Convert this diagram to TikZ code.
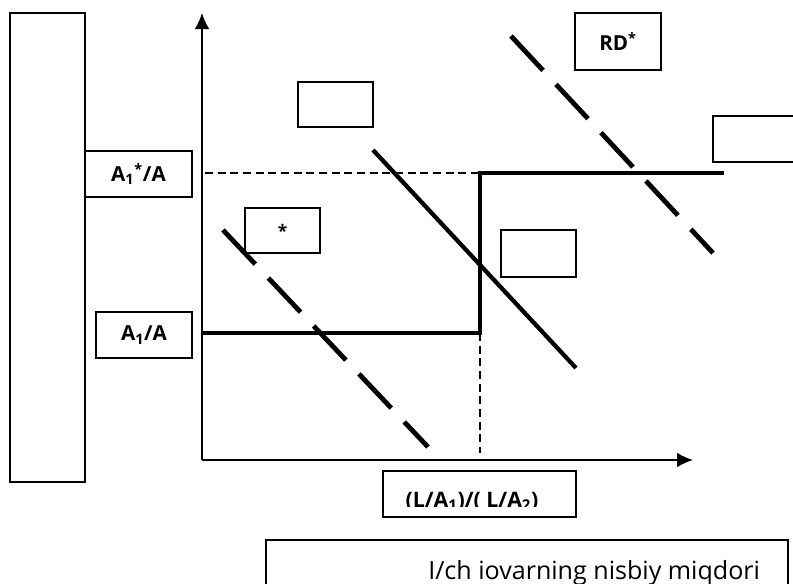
\documentclass[tikz,border=0pt]{standalone}
\usepackage{fontspec}
\setmainfont{Open Sans}
\usetikzlibrary{arrows.meta}

\begin{document}
\begin{tikzpicture}[x=0.75pt, y=-0.75pt, >={Latex[length=12pt,width=11pt]},
  box/.style={draw, rectangle, line width=1pt, inner sep=0pt},
  lbl/.style={box, font=\fontsize{15.5}{18}\selectfont\bfseries},
  curve/.style={line width=3.2pt},
  dashcurve/.style={line width=3.6pt, dash pattern=on 35.25pt off 14.25pt},
  guide/.style={line width=0.8pt, dash pattern=on 6pt off 3.5pt}]
  \useasboundingbox (0,0) rectangle (793,583);
  \clip (0,0) rectangle (793,583);

  % Define blocks
  \node [box, minimum width=56.25pt, minimum height=351.75pt] (tall) at (47.5,247.5) {};
  \node [lbl, minimum width=80.25pt, minimum height=34.5pt] (aone star) at (138.5,174) {A\textsubscript{1}\textsuperscript{*}/A};
  \node [lbl, minimum width=72pt, minimum height=34.5pt] (aone) at (144,335) {A\textsubscript{1}/A};
  \node [box, minimum width=56.25pt, minimum height=33.75pt] (rd) at (335.5,104.5) {};
  \node [lbl, font=\fontsize{13}{15}\selectfont\bfseries, minimum width=56.25pt, minimum height=33.75pt] (rd star) at (282.5,230.5) {*};
  \node [lbl, minimum width=64.5pt, minimum height=42.75pt] (RD star) at (618,41.5) {RD\textsuperscript{*}};
  \node [box, minimum width=67.5pt, minimum height=34.5pt] (rs star) at (758,139) {};
  \node [box, minimum width=56.25pt, minimum height=35.25pt] (rs) at (538.5,253.5) {};
  \node [box, minimum width=144.75pt, minimum height=34.5pt] (ratio) at (479.5,494) {};
  \begin{scope}
    \clip (383,471) rectangle (576,506);
    \node [font=\fontsize{16}{18}\selectfont\bfseries, anchor=base] (ratio text) at (472,507) {(L/A\textsubscript{1})/( L/A\textsubscript{2})};
  \end{scope}
  \node [box, minimum width=391.5pt, minimum height=60pt] (caption) at (527,580) {};
  \node [font=\fontsize{18.8}{21}\selectfont, anchor=base west, inner sep=0pt] (caption text) at (428,579) {I/ch iovarning nisbiy miqdori};

  % Axes
  \coordinate (O) at (202,460);
  \coordinate (ytop) at (202,13);
  \coordinate (xend) at (693,460);
  \draw [->, line width=1.1pt] (O) -- (ytop);
  \draw [->, line width=1.1pt] (O) -- (xend);

  % Step line and guides
  \coordinate (s0) at (202,333);
  \coordinate (s1) at (480,333);
  \coordinate (s2) at (480,173);
  \coordinate (s3) at (724,173);
  \coordinate (g0) at (205,173);
  \coordinate (g1) at (480,453);
  \draw [curve, line width=3.4pt] (s0) -- (s1) -- (s2) -- (s3);
  \draw [guide] (g0) -- (s2);
  \draw [guide] (s1) -- (g1);

  % Demand lines
  \coordinate (d0) at (373,150);
  \coordinate (d1) at (576,368);
  \coordinate (l0) at (223,230);
  \coordinate (l1) at (428,447);
  \coordinate (r0) at (511,36);
  \coordinate (r1) at (713,253);
  \draw [curve] (d0) -- (d1);
  \draw [dashcurve] (l0) -- (l1);
  \draw [dashcurve] (r0) -- (r1);
\end{tikzpicture}
\end{document}
